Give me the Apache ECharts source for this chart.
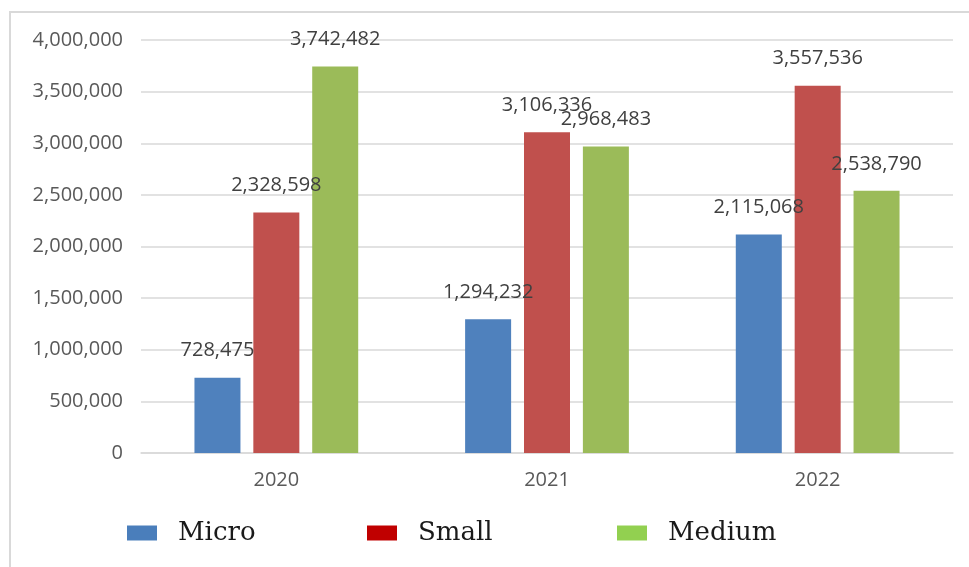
<!DOCTYPE html>
<html>
<head>
<meta charset="utf-8">
<script src="https://cdn.jsdelivr.net/npm/echarts@6/dist/echarts.min.js"></script>
<style>html,body{margin:0;padding:0;background:#fff}#c{width:969px;height:567px}</style>
</head>
<body>
<div id="c"></div>
<script>
var categories = ['2020', '2021', '2022'];
var seriesNames = ['Micro', 'Small', 'Medium'];
var micro = [728475, 1294232, 2115068];
var small = [2328598, 3106336, 3557536];
var medium = [3742482, 2968483, 2538790];

var barColors = ['#4F81BD', '#C0504D', '#9BBB59'];
var legendColors = ['#4A7EBB', '#C00000', '#92D050'];
var values = [micro, small, medium];

var chart = echarts.init(document.getElementById('c'));
var fmt = function (v) { return Number(v).toLocaleString('en-US'); };
var legendLefts = [122, 362, 612];

chart.setOption({
  animation: false,
  graphic: [{
    type: 'rect', shape: { x: 10, y: 12, width: 980, height: 600 },
    style: { fill: 'none', stroke: '#d9d9d9', lineWidth: 2 }, silent: true, z: -1
  }],
  legend: seriesNames.map(function (n, i) {
    return {
      left: legendLefts[i], top: 515, itemWidth: 30, itemHeight: 15, itemGap: 21,
      textStyle: { fontFamily: 'DejaVu Serif', fontSize: 26, color: '#1a1a1a', padding: [0, 0, 0, 16] },
      data: [{ name: n, icon: 'rect', itemStyle: { color: legendColors[i] } }]
    };
  }),
  grid: { left: 141, right: 16, top: 40, bottom: 114 },
  xAxis: {
    type: 'category', data: categories,
    axisLine: { lineStyle: { color: '#d9d9d9', width: 1.5 } },
    axisTick: { show: false },
    axisLabel: { color: '#595959', fontSize: 20, fontFamily: 'Open Sans', margin: 17 }
  },
  yAxis: {
    type: 'value', min: 0, max: 4000000, interval: 500000,
    axisLine: { show: false }, axisTick: { show: false },
    splitLine: { lineStyle: { color: '#d9d9d9', width: 1.5 } },
    axisLabel: { color: '#595959', fontSize: 20, fontFamily: 'Open Sans', margin: 18, formatter: fmt }
  },
  series: seriesNames.map(function (n, i) {
    return {
      name: n, type: 'bar', data: values[i], barWidth: 46, barGap: '28%',
      itemStyle: { color: barColors[i] },
      label: {
        show: true, position: 'top', distance: 17, formatter: function (p) { return fmt(p.value); },
        color: '#404040', fontSize: 20, fontFamily: 'Open Sans'
      }
    };
  })
});
</script>
</body>
</html>
